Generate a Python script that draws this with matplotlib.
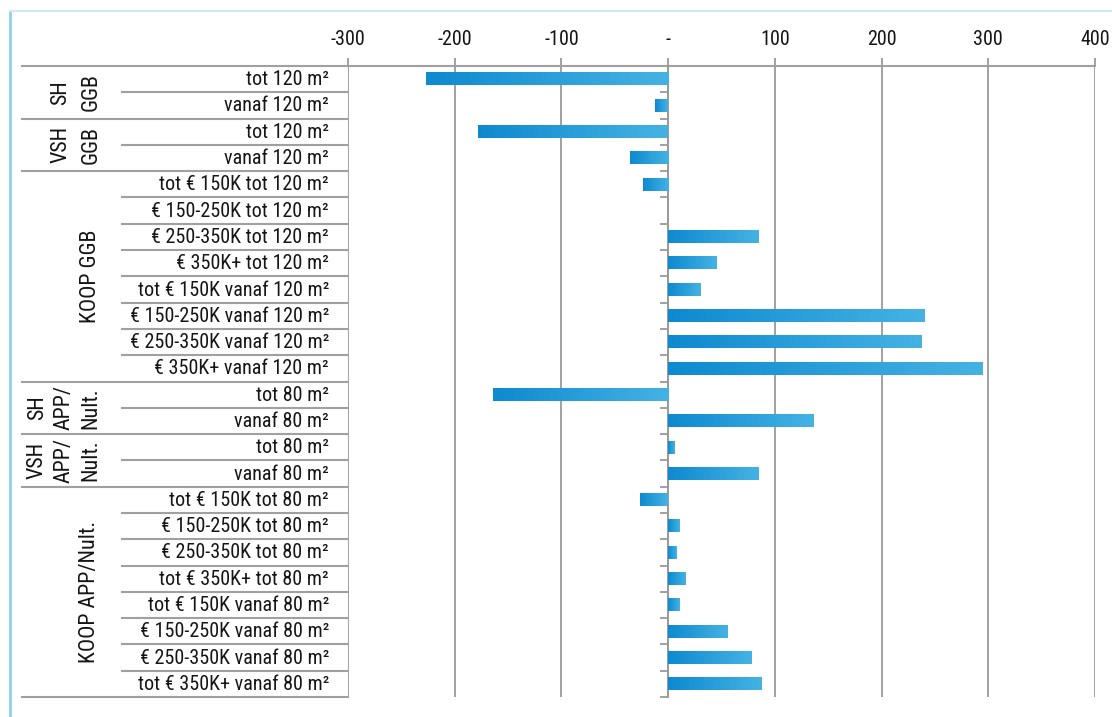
import matplotlib
matplotlib.use("Agg")
import matplotlib.pyplot as plt
import numpy as np
from matplotlib.colors import LinearSegmentedColormap
from matplotlib.lines import Line2D
from matplotlib import font_manager

row_labels = [
    "tot 120 m²", "vanaf 120 m²",
    "tot 120 m²", "vanaf 120 m²",
    "tot € 150K tot 120 m²", "€ 150-250K tot 120 m²", "€ 250-350K tot 120 m²",
    "€ 350K+ tot 120 m²", "tot € 150K vanaf 120 m²", "€ 150-250K vanaf 120 m²",
    "€ 250-350K vanaf 120 m²", "€ 350K+ vanaf 120 m²",
    "tot 80 m²", "vanaf 80 m²",
    "tot 80 m²", "vanaf 80 m²",
    "tot € 150K tot 80 m²", "€ 150-250K tot 80 m²", "€ 250-350K tot 80 m²",
    "tot € 350K+ tot 80 m²", "tot € 150K vanaf 80 m²", "€ 150-250K vanaf 80 m²",
    "€ 250-350K vanaf 80 m²", "tot € 350K+ vanaf 80 m²",
]
values = [-227, -12, -178, -36, -24, 0, 85, 45, 30, 240, 238, 295,
          -164, 136, 6, 85, -26, 11, 8, 16, 11, 56, 78, 88]
group_names = ["SH\nGGB", "VSH\nGGB", "KOOP GGB", "SH\nAPP/\nNult.", "VSH\nAPP/\nNult.", "KOOP APP/Nult."]
group_sizes = [2, 2, 8, 2, 2, 8]
xticks = [-300, -200, -100, 0, 100, 200, 300, 400]
xtick_labels = ["-300", "-200", "-100", "-", "100", "200", "300", "400"]

avail = {f.name for f in font_manager.fontManager.ttflist}
fam = "DejaVu Sans"
for cand in ["Roboto Condensed", "Archivo Narrow", "Liberation Sans Narrow", "Open Sans Condensed"]:
    if cand in avail:
        fam = cand
        break
plt.rcParams['font.family'] = [fam, 'DejaVu Sans']

W, H = 1112, 717
fig = plt.figure(figsize=(W / 100, H / 100), dpi=100)
fig.patch.set_facecolor("white")

ax_l, ax_r, ax_t, ax_b = 348, 1095, 66, 697
ax = fig.add_axes([ax_l / W, 1 - ax_b / H, (ax_r - ax_l) / W, (ax_b - ax_t) / H])

n = len(values)
ys = np.arange(n)
cmap = LinearSegmentedColormap.from_list("bl", ["#0e8ad0", "#45b2e3"])
grad = np.linspace(0, 1, 256).reshape(1, -1)
bh = 0.48
for y, v in zip(ys, values):
    if v == 0:
        continue
    x0, x1 = min(0, v), max(0, v)
    ax.imshow(grad, extent=[x0, x1, y + bh / 2, y - bh / 2], aspect='auto',
              cmap=cmap, zorder=3, interpolation='bicubic')

ax.set_xlim(-300, 400)
ax.set_ylim(n - 0.5, -0.5)
ax.set_aspect('auto')

gc = "#9a9a9a"
tc = "#151515"
ax.set_xticks(xticks)
ax.set_xticklabels(xtick_labels, fontsize=14.5, color=tc)
ax.xaxis.tick_top()
ax.tick_params(axis='x', length=6, width=1.3, color=gc, pad=6, direction='out')
ax.grid(axis='x', color=gc, lw=1.3, zorder=1)
ax.set_axisbelow(True)

for s in ["top", "right", "bottom"]:
    ax.spines[s].set_visible(False)
ax.spines["left"].set_position(("data", 0))
ax.spines["left"].set_color(gc)
ax.spines["left"].set_linewidth(1.3)
ax.set_yticks([])
ax.set_yticks(np.arange(1, n + 1) - 0.5, minor=True)
ax.tick_params(axis='y', which='minor', length=6, width=1.3, color=gc, direction='out')

def px2ax(px):
    return (px - ax_l) / (ax_r - ax_l)

tr = ax.get_yaxis_transform()
lc = "#a0a0a0"
ax.add_line(Line2D([px2ax(22), 1.0], [-0.5, -0.5], transform=tr, color=lc, lw=1.5, clip_on=False))
group_starts = np.cumsum([0] + group_sizes)
for b in range(1, n + 1):
    x0 = px2ax(22) if b in group_starts else px2ax(122)
    ax.add_line(Line2D([x0, 0.0], [b - 0.5, b - 0.5], transform=tr, color=lc, lw=1.5, clip_on=False))

for y, lab in zip(ys, row_labels):
    ax.text(px2ax(329), y + 0.02, lab, transform=tr, ha='right', va='center', fontsize=14.5, color=tc)

gx = [76, 76, 90, 64, 64, 90]
gls = [1.55, 1.55, 1.2, 1.35, 1.35, 1.2]
for name, start, size, x, ls in zip(group_names, group_starts[:-1], group_sizes, gx, gls):
    yc = start + size / 2 - 0.5
    ax.text(px2ax(x), yc, name, transform=tr, ha='center', va='center', rotation=90,
            fontsize=15.8, color=tc, linespacing=ls, multialignment='center')

fig.add_artist(Line2D([10 / W, 10 / W], [1 - 11 / H, 0], color="#8fcfee", lw=2))
fig.add_artist(Line2D([10 / W, 1], [1 - 11 / H, 1 - 11 / H], color="#cfe9f5", lw=1.5))

fig.savefig("out.png", dpi=100)
